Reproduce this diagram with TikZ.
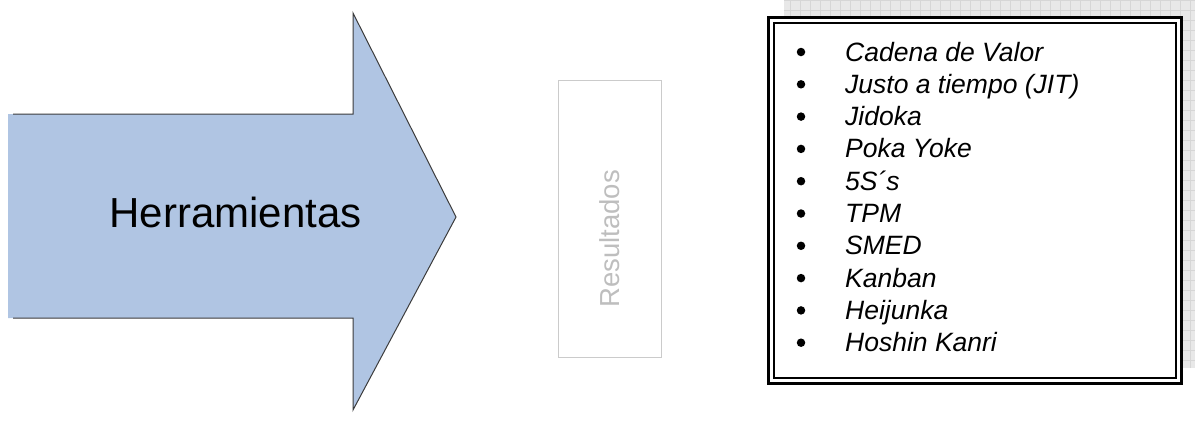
\documentclass[tikz,border=0pt]{standalone}
\usepackage{fontspec}
\setmainfont{Liberation Sans}
\usetikzlibrary{positioning}

\definecolor{arrowblue}{RGB}{176,197,227}
\definecolor{arrowline}{RGB}{60,60,60}
\definecolor{paperbg}{RGB}{232,232,232}
\definecolor{paperline}{RGB}{214,214,214}
\definecolor{ghost}{RGB}{190,190,190}

\begin{document}
\begin{tikzpicture}[x=1pt, y=-1pt]
        \tikzstyle{gridbg}=[fill=paperbg]
        \tikzstyle{gridln}=[step=10pt, paperline, line width=0.8pt]
        \tikzstyle{item}=[anchor=base west, inner sep=0pt, font=\fontsize{26.5}{32}\selectfont\itshape]
        \tikzstyle{dot}=[circle, fill=black, inner sep=0pt, minimum size=8.5pt]

        \useasboundingbox (0,0) rectangle (1195,421);

        % Big arrow, open on the left side
        \fill[arrowblue] (8,114) -- (353,114) -- (353,13) -- (456,217)
            -- (353,410) -- (353,318) -- (8,318) -- cycle;
        \draw[arrowline, line width=1pt] (13,114) -- (353,114) -- (353,13) -- (456,217)
            -- (353,410) -- (353,318) -- (13,318);
        \node[anchor=base, inner sep=0pt, font=\fontsize{42}{50}\selectfont] (tools) at (235.5,227) {Herramientas};

        % Results box
        \draw[ghost!80, line width=1pt] (558,80) rectangle (661,357);
        \node[rotate=90, anchor=base east, inner sep=0pt, text=ghost, font=\fontsize{27.5}{33}\selectfont] (results) at (619,170) {Resultados};

        % Grid paper behind the list
        \fill[gridbg] (784,0) rectangle (1195,368);
        \draw[gridln] (784,0) grid (1195,368);

        % List with double frame
        \fill[white] (768.5,17.5) rectangle (1181,383);
        \draw[line width=3pt] (768.5,17.5) rectangle (1181,383);
        \draw[line width=2pt] (774,22.5) rectangle (1176,377.5);
        \foreach \txt [count=\i] in {Cadena de Valor, Justo a tiempo (JIT), Jidoka, Poka Yoke,
                5S´s, TPM, SMED, Kanban, Heijunka, Hoshin Kanri} {
            \node[dot] (b\i) at (801,{52+32.3*(\i-1)}) {};
            \node[item] (t\i) at (845,{61+32.3*(\i-1)}) {\txt};
        }
    \end{tikzpicture}
\end{document}
